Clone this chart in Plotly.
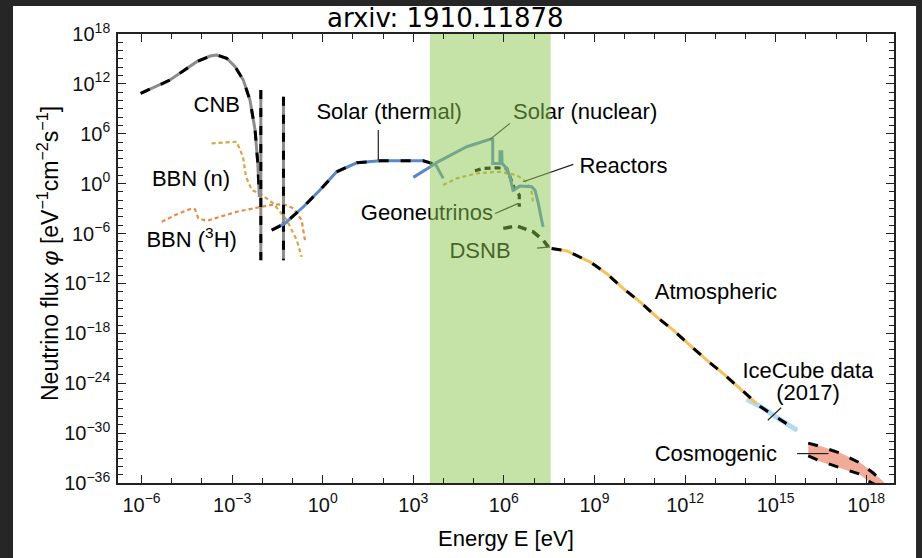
import plotly.graph_objects as go

# ---- data: log10(E / eV) and log10(flux / (eV^-1 cm^-2 s^-1)) ----
cnb_logE = [-6.03, -5.06, -4.17, -3.73, -3.51, -3.18, -2.90, -2.63, -2.41, -2.24, -2.15, -2.10]
cnb_logF = [10.86, 12.46, 14.67, 15.35, 15.47, 15.08, 14.07, 12.46, 10.06, 6.45, 2.44, -1.58]

cnb_line1_logE = [-2.05, -2.05]
cnb_line1_logF = [11.26, -9.20]
cnb_line2_logE = [-1.30, -1.30]
cnb_line2_logF = [10.45, -9.20]

bbn_n_logE = [-3.68, -2.85, -2.64, -2.54, -2.35, -2.08, -1.64, -1.19, -0.86, -0.70]
bbn_n_logF = [4.85, 5.04, 3.23, 0.83, -0.77, -1.17, -2.37, -4.38, -6.79, -8.80]

bbn_h3_logE = [-5.33, -4.89, -4.34, -4.23, -4.12, -3.84, -2.85, -1.75, -1.30, -0.97, -0.70, -0.59]
bbn_h3_logF = [-4.59, -3.78, -2.97, -3.10, -4.18, -4.47, -3.38, -2.58, -2.46, -2.97, -4.38, -6.79]

solar_th_logE = [-1.69, -1.25, -0.64, -0.09, 0.46, 1.13, 1.90, 2.56, 3.33, 3.61, 3.72]
solar_th_logF = [-5.59, -4.78, -2.78, -0.77, 1.43, 2.51, 2.75, 2.75, 2.75, 2.44, 2.24]
solar_th_tail_logE = [3.00, 3.66]
solar_th_tail_logF = [0.76, 2.24]

solar_nuc_logE = [3.72, 4.22, 4.77, 5.54, 5.63, 5.63, 5.87, 5.87, 5.93, 5.94, 6.09, 6.20,
                  6.26, 6.30, 6.53, 6.92, 7.03, 7.14, 7.25, 7.30]
solar_nuc_logF = [2.44, 3.44, 4.44, 5.33, 5.33, 2.44, 2.44, 3.84, 3.84, 2.44, 1.84, 0.83,
                  -0.38, -0.77, -0.29, -0.38, -0.77, -2.37, -4.38, -5.19]
solar_nuc_drop_logE = [3.72, 3.99]
solar_nuc_drop_logF = [2.44, 0.64]

geo_logE = [5.04, 5.32, 5.76, 6.09, 6.20, 6.37, 6.51, 6.51]
geo_logF = [1.55, 1.84, 1.91, 1.84, 0.83, -0.77, -1.37, -2.78]

reactor_logE = [3.99, 4.44, 5.10, 5.87, 6.42, 6.75, 6.92, 6.97]
reactor_logF = [-0.17, 0.64, 1.24, 1.43, 1.03, 0.23, -0.98, -2.37]

dsnb_logE = [5.98, 6.42, 6.97, 7.30, 7.47]
dsnb_logF = [-5.38, -5.07, -5.79, -6.79, -7.60]

atm_logE = [7.58, 8.08, 8.85, 9.40, 9.95, 10.51, 11.06, 11.61, 12.16, 12.72, 13.26, 13.82, 14.26, 14.37]
atm_logF = [-7.79, -8.08, -9.40, -10.80, -12.60, -14.22, -16.02, -17.62, -19.43, -21.23, -22.83,
            -24.64, -26.04, -26.44]

icecube_logE = [14.04, 14.48, 14.98, 15.47, 15.70]
icecube_logF = [-25.92, -26.77, -27.97, -29.05, -29.65]

cosmo_logE = [16.08, 16.47, 17.13, 17.80, 18.23, 18.62]
cosmo_hi_logF = [-31.20, -31.60, -32.40, -33.60, -34.80, -36.07]
cosmo_lo_logE = [16.08, 16.47, 17.13, 17.80, 18.13, 18.35]
cosmo_lo_logF = [-32.75, -33.35, -34.15, -34.95, -35.90, -36.27]

# shaded energy window (log10 eV)
band_logE = [3.55, 7.55]

# labels: text, log10 E, log10 flux
label_text = ["CNB", "BBN (n)", "BBN (<sup>3</sup>H)", "Solar (thermal)", "Solar (nuclear)",
              "Reactors", "Geoneutrinos", "DSNB", "Atmospheric", "IceCube data", "(2017)",
              "Cosmogenic"]
label_logE = [-3.51, -4.36, -4.34, 2.20, 8.69, 9.96, 3.45, 5.21, 13.02, 16.07, 16.07, 13.02]
label_logF = [9.34, 0.43, -7.00, 8.49, 8.49, 2.00, -3.66, -8.23, -13.17, -22.75, -25.35, -32.66]

# leader lines from labels to curves: (logE pair, logF pair)
leaders = [
    ([1.84, 1.84], [6.45, 2.84]),
    ([6.20, 5.54], [7.25, 5.33]),
    ([8.30, 6.64], [2.32, 0.23]),
    ([5.71, 6.48], [-3.58, -2.37]),
    ([7.10, 7.53], [-7.75, -7.60]),
    ([15.18, 14.74], [-26.95, -28.45]),
    ([15.71, 16.75], [-32.46, -32.46]),
]

# axis ticks
x_major_exp = [-6, -3, 0, 3, 6, 9, 12, 15, 18]
x_minor_exp = list(range(-6, 19))
y_major_exp = [18, 12, 6, 0, -6, -12, -18, -24, -30, -36]
y_minor_exp = list(range(-36, 19))


def pw(values):
    return [10.0 ** v for v in values]


def tick_label(e):
    s = str(e).replace("-", "\u2212")
    return "10<sup>" + s + "</sup>"


GRAY = "#8c8c8c"
BLUE = "#5b87c5"
GOLD = "#d8a545"
ORANGE = "#e68c4a"
ATM = "#f3c25e"
ICE = "#b0dcee"
SALMON = "#f2ab98"
DASH = "10px,12px"
FONT = "Liberation Sans, Arial, sans-serif"

fig = go.Figure()


def line(xs, ys, color, width, dash="solid"):
    fig.add_trace(go.Scatter(x=pw(xs), y=pw(ys), mode="lines",
                             line=dict(color=color, width=width, dash=dash),
                             hoverinfo="skip"))


# Big Bang nucleosynthesis
line(bbn_n_logE, bbn_n_logF, GOLD, 2.2, "4px,3px")
line(bbn_h3_logE, bbn_h3_logF, ORANGE, 2.2, "4px,3px")

# cosmic neutrino background
line(cnb_logE, cnb_logF, GRAY, 3)
line(cnb_logE, cnb_logF, "black", 3, DASH)
for xs, ys in [(cnb_line1_logE, cnb_line1_logF), (cnb_line2_logE, cnb_line2_logF)]:
    line(xs, ys, GRAY, 3)
    line(xs, ys, "black", 3, "9px,9px")

# Sun
line(solar_th_logE, solar_th_logF, BLUE, 3)
line(solar_th_logE, solar_th_logF, "black", 3, DASH)
line(solar_th_tail_logE, solar_th_tail_logF, BLUE, 3)

# reactors, geoneutrinos, solar nuclear, DSNB
line(reactor_logE, reactor_logF, GOLD, 2.2, "4px,3px")
line(geo_logE, geo_logF, "black", 3.2, "6px,4px")
line(solar_nuc_logE, solar_nuc_logF, BLUE, 3)
line(solar_nuc_drop_logE, solar_nuc_drop_logF, BLUE, 3)
line(dsnb_logE, dsnb_logF, "black", 3.5, "9px,6px")

# atmospheric and IceCube
line(icecube_logE, icecube_logF, ICE, 5)
line(atm_logE, atm_logF, ATM, 3)
line(atm_logE[:-1] + icecube_logE[1:], atm_logF[:-1] + icecube_logF[1:], "black", 3, DASH)

# cosmogenic band
fig.add_trace(go.Scatter(x=pw(cosmo_logE + cosmo_lo_logE[::-1]),
                         y=pw(cosmo_hi_logF + cosmo_lo_logF[::-1]),
                         mode="lines", fill="toself", fillcolor=SALMON,
                         line=dict(color=SALMON, width=1), hoverinfo="skip"))
line(cosmo_logE, cosmo_hi_logF, "black", 3, DASH)
line(cosmo_lo_logE, cosmo_lo_logF, "black", 3, DASH)

# leader lines
for xs, ys in leaders:
    line(xs, ys, "#222222", 1.2)

# labels
fig.add_trace(go.Scatter(x=pw(label_logE), y=pw(label_logF), mode="text",
                         text=label_text, textposition="middle center",
                         textfont=dict(family=FONT, size=22, color="black"),
                         hoverinfo="skip"))

# translucent energy window drawn over everything beneath it
fig.add_trace(go.Scatter(x=pw([band_logE[0], band_logE[1], band_logE[1], band_logE[0], band_logE[0]]),
                         y=pw([-36, -36, 18, 18, -36]), mode="lines", fill="toself",
                         fillcolor="rgba(140,200,80,0.5)", line=dict(width=0),
                         hoverinfo="skip"))

axis_common = dict(
    type="log", showgrid=False, zeroline=False, showline=True, linecolor="#222222",
    linewidth=1.6, mirror="ticks", ticks="inside", tickcolor="#222222", tickwidth=1.4,
    ticklen=8, tickfont=dict(family=FONT, size=20, color="#111111"),
)

fig.update_layout(
    width=922, height=558,
    margin=dict(l=118, r=28, t=34, b=75),
    paper_bgcolor="#262626", plot_bgcolor="white",
    showlegend=False,
    xaxis=dict(axis_common, range=[-6.78, 18.92], tickmode="array", ticklabelstandoff=3,
               tickvals=pw(x_major_exp), ticktext=[tick_label(e) for e in x_major_exp],
               minor=dict(tickmode="array", tickvals=pw(x_minor_exp), ticks="inside",
                          ticklen=5, tickwidth=1.2, tickcolor="#222222")),
    yaxis=dict(axis_common, range=[-36, 18], tickmode="array", ticklabelstandoff=2,
               tickvals=pw(y_major_exp), ticktext=[tick_label(e) for e in y_major_exp],
               minor=dict(tickmode="array", tickvals=pw(y_minor_exp), ticks="inside",
                          ticklen=5, tickwidth=1.2, tickcolor="#222222")),
    shapes=[dict(type="rect", xref="paper", yref="paper", x0=-0.1353, x1=1.0284,
                 y0=-0.1678, y1=1.0626, fillcolor="white", line=dict(width=0), layer="below")],
    annotations=[
        dict(text="arxiv: 1910.11878", xref="paper", yref="paper", x=0.4214, y=1.0358,
             showarrow=False, font=dict(family="DejaVu Sans, sans-serif", size=26, color="black"),
             xanchor="center", yanchor="middle"),
        dict(text="Energy E [eV]", xref="paper", yref="paper", x=0.5, y=-0.123,
             showarrow=False, font=dict(family=FONT, size=22, color="black"),
             xanchor="center", yanchor="middle"),
        dict(text="Neutrino flux <i>\u03c6</i> [eV<sup>\u22121</sup>cm<sup>\u22122</sup>s<sup>\u22121</sup>]",
             xref="paper", yref="paper", x=-0.0902, y=0.51, textangle=-90,
             showarrow=False, font=dict(family=FONT, size=23, color="black"),
             xanchor="center", yanchor="middle"),
    ],
)

fig.write_html("out.html")
